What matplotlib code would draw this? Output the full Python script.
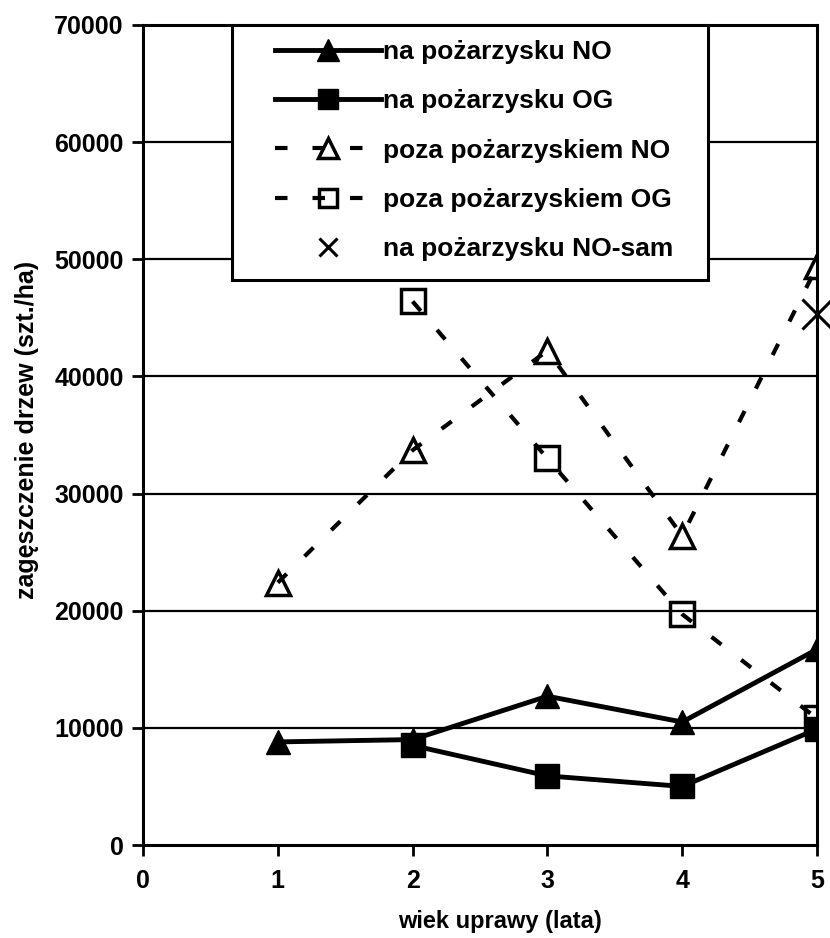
import matplotlib
matplotlib.use("Agg")
import matplotlib.pyplot as plt
from matplotlib.patches import Rectangle

plt.rcParams['font.family'] = ['Liberation Sans', 'DejaVu Sans']

# data
years = [1, 2, 3, 4, 5]
na_NO = [8800, 9000, 12700, 10500, 16700]
years_OG = [2, 3, 4, 5]
na_OG = [8500, 5900, 5000, 9900]
poza_NO = [22400, 33700, 42200, 26400, 49400]
poza_OG = [46400, 33000, 19700, 10800]
years_sam = [5]
na_NO_sam = [45300]

labels = ["na pożarzysku NO", "na pożarzysku OG", "poza pożarzyskiem NO",
          "poza pożarzyskiem OG", "na pożarzysku NO-sam"]
xticks = [0, 1, 2, 3, 4, 5]
yticks = [0, 10000, 20000, 30000, 40000, 50000, 60000, 70000]
xlabel = "wiek uprawy (lata)"
ylabel = "zagęszczenie drzew (szt./ha)"

fig = plt.figure(figsize=(8.3, 9.38), dpi=100)
ax = fig.add_axes([143/830, 1-845/938, (817-143)/830, (845-25)/938])

for y in yticks[1:]:
    ax.axhline(y, color='black', lw=1.6, zorder=1)

dash = (0, (3, 6))
ax.plot(years, poza_NO, color='black', lw=3, ls=dash, marker='^', ms=17,
        mfc='none', mec='black', mew=2.5, label=labels[2], zorder=3)
ax.plot(years_OG, poza_OG, color='black', lw=3, ls=dash, marker='s', ms=17,
        mfc='none', mec='black', mew=2.5, label=labels[3], zorder=3)
ax.plot(years, na_NO, color='black', lw=3.5, marker='^', ms=17,
        mfc='black', mec='black', label=labels[0], zorder=4)
ax.plot(years_OG, na_OG, color='black', lw=3.5, marker='s', ms=17,
        mfc='black', mec='black', label=labels[1], zorder=4)
ax.plot(years_sam, na_NO_sam, ls='none', marker='x', ms=22, mec='black',
        mew=2.2, label=labels[4], zorder=5, clip_on=False)

ax.set_xlim(0, 5)
ax.set_ylim(0, 70000)
ax.set_xticks(xticks)
ax.set_yticks(yticks)
ax.tick_params(axis='both', direction='out', length=8, width=2, labelsize=18)
ax.tick_params(axis='x', pad=9)
ax.tick_params(axis='y', pad=6)
for t in ax.get_xticklabels() + ax.get_yticklabels():
    t.set_fontweight('bold')
for s in ax.spines.values():
    s.set_linewidth(2.2)
    s.set_color('black')

ax.set_xlabel(xlabel, fontsize=17, fontweight='bold')
ax.set_ylabel(ylabel, fontsize=18, fontweight='bold')
ax.xaxis.set_label_coords(0.53, -0.079)
ax.yaxis.set_label_coords(-0.155, 0.506)

# legend box (opaque white frame)
frame = Rectangle(((232-143)/674, 1-(280-25)/820), (708-232)/674, (280-25)/820,
                  transform=ax.transAxes, facecolor='white', edgecolor='black',
                  lw=2.2, zorder=6, clip_on=False)
ax.add_patch(frame)

handles, labs = ax.get_legend_handles_labels()
hmap = dict(zip(labs, handles))
leg = ax.legend([hmap[l] for l in labels], labels, loc='upper left',
                bbox_to_anchor=((275-143)/674, 1-(40-25)/820), borderaxespad=0,
                frameon=False, prop={'weight': 'bold', 'size': 19},
                handlelength=4.0, handletextpad=0.1, labelspacing=0.96,
                numpoints=1, borderpad=0)
leg.set_zorder(7)
for h, ms in zip(leg.legend_handles, [16, 15, 14, 13, 13]):
    h.set_markersize(ms)

fig.savefig("out.png", dpi=100)
